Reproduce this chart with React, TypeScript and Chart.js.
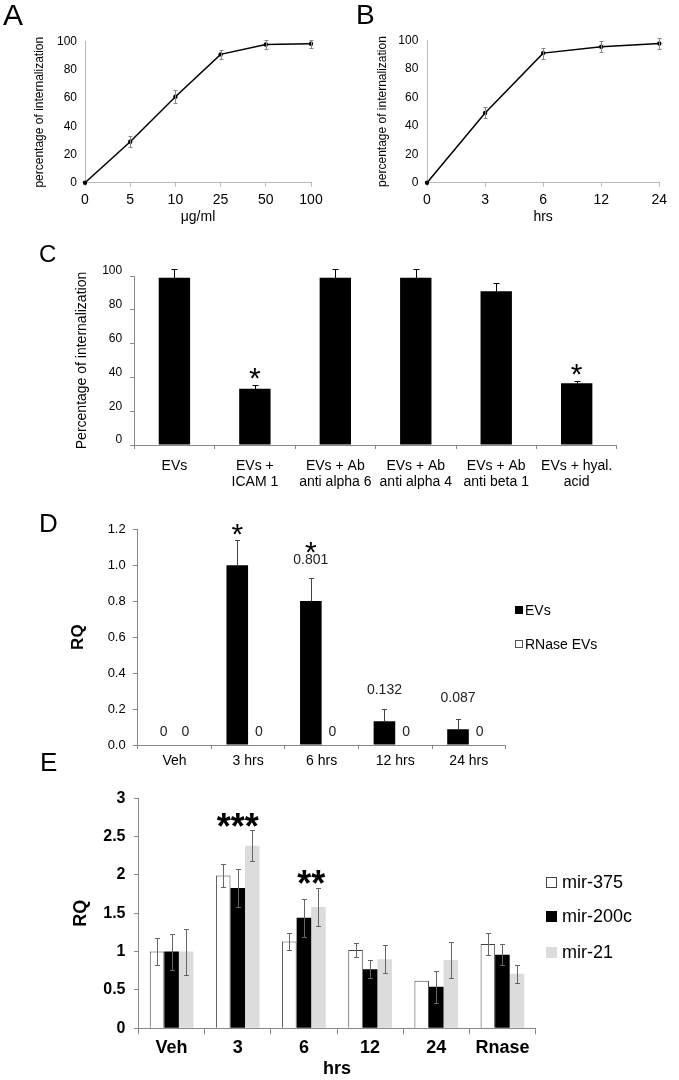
import React, { useEffect, useRef } from 'react';
import { Chart, registerables } from 'chart.js';
Chart.register(...registerables);

const FONT = "'Liberation Sans', Arial, Helvetica, sans-serif";
Chart.defaults.font.family = FONT;
Chart.defaults.color = '#000';

// ---------- data ----------
const aDoses = ['0', '5', '10', '25', '50', '100'];
const aValues = [0, 29, 61, 91, 98, 98.5];
const aErrors = [0, 3.8, 4.5, 3.2, 3, 3];

const bTimes = ['0', '3', '6', '12', '24'];
const bValues = [0, 49, 91, 95.5, 97.8];
const bErrors = [0, 3.9, 3.9, 3.9, 3.8];

const cCategories = [['EVs'], ['EVs +', 'ICAM 1'], ['EVs + Ab', 'anti alpha 6'], ['EVs + Ab', 'anti alpha 4'], ['EVs + Ab', 'anti beta 1'], ['EVs + hyal.', 'acid']];
const cValues = [99, 33.3, 99, 99, 91, 36.5];
const cErrors = [5, 2, 5, 5, 4.6, 1.5];
const cStars = ['', '*', '', '', '', '*'];

const dCategories = ['Veh', '3 hrs', '6 hrs', '12 hrs', '24 hrs'];
const dSeries = ['EVs', 'RNase EVs'];
const dEVs = [0, 1.0, 0.801, 0.132, 0.087];
const dEVsErr = [0, 0.14, 0.127, 0.067, 0.056];
const dRNase = [0, 0, 0, 0, 0];
const dEVsLabels = ['0', '', '0.801', '0.132', '0.087'];
const dRNaseLabels = ['0', '0', '0', '0', '0'];
const dStars = ['', '*', '*', '', ''];

const eCategories = ['Veh', '3', '6', '12', '24', 'Rnase'];
const eSeries = ['mir-375', 'mir-200c', 'mir-21'];
const e375 = [1, 1.99, 1.13, 1.02, 0.62, 1.1];
const e375Err = [0.18, 0.15, 0.115, 0.09, 0, 0.14];
const e200c = [1, 1.83, 1.44, 0.77, 0.54, 0.96];
const e200cErr = [0.235, 0.25, 0.25, 0.12, 0.21, 0.14];
const e21 = [1, 2.38, 1.58, 0.9, 0.89, 0.71];
const e21Err = [0.3, 0.2, 0.25, 0.18, 0.23, 0.115];
const eStars = ['', '***', '**', '', '', ''];

// ---------- helpers ----------
type Box = { cx: number; cy: number; cw: number; ch: number; L: number; T: number; R: number; B: number };

const layoutFor = (b: Box) => ({ padding: { left: 0, top: b.T - b.cy, right: b.cx + b.cw - b.R, bottom: 0 } });
const fitY = (b: Box) => (s: any) => { s.width = b.L - b.cx; };
const fitX = (b: Box) => (s: any) => { s.height = b.cy + b.ch - b.B; };

type ErrSpec = { ds: number; errors: number[]; mode: 'up' | 'both'; color: string; cap: number };
type TextSpec = { ds: number[]; idx: number; text: string; ref: number; dy: number; size: number; bold?: boolean; star?: boolean; color?: string };

function makeExtras(errs: ErrSpec[], texts: TextSpec[]) {
  return {
    id: 'extras',
    afterDatasetsDraw(chart: any) {
      const ctx = chart.ctx;
      const ys = chart.scales.y;
      ctx.save();
      for (const e of errs) {
        const meta = chart.getDatasetMeta(e.ds);
        const data = chart.data.datasets[e.ds].data as number[];
        ctx.strokeStyle = e.color;
        ctx.lineWidth = 1;
        e.errors.forEach((err, i) => {
          if (!err) return;
          const el = meta.data[i];
          const v = data[i];
          const top = Math.round(ys.getPixelForValue(v + err)) + 0.5;
          const bot = Math.round(ys.getPixelForValue(e.mode === 'both' ? v - err : v)) + 0.5;
          const x = Math.round(el.x) + 0.5;
          ctx.beginPath();
          ctx.moveTo(x, bot);
          ctx.lineTo(x, top);
          ctx.moveTo(x - e.cap, top);
          ctx.lineTo(x + e.cap, top);
          if (e.mode === 'both') {
            ctx.moveTo(x - e.cap, bot);
            ctx.lineTo(x + e.cap, bot);
          }
          ctx.stroke();
        });
      }
      for (const t of texts) {
        if (!t.text) continue;
        let x = 0;
        for (const d of t.ds) x += chart.getDatasetMeta(d).data[t.idx].x;
        x /= t.ds.length;
        const cy = ys.getPixelForValue(t.ref) + t.dy;
        ctx.font = `${t.bold ? 'bold ' : ''}${t.size}px ${FONT}`;
        ctx.fillStyle = t.color || '#000';
        ctx.textAlign = 'center';
        if (t.star) {
          ctx.textBaseline = 'alphabetic';
          ctx.fillText(t.text, x, cy + 0.58 * t.size);
        } else {
          ctx.textBaseline = 'middle';
          ctx.fillText(t.text, x, cy);
        }
      }
      ctx.restore();
    },
  };
}

function ChartCanvas({ box, make }: { box: Box; make: () => any }) {
  const ref = useRef<HTMLCanvasElement>(null);
  useEffect(() => {
    const chart = new Chart(ref.current as HTMLCanvasElement, make());
    return () => chart.destroy();
  }, []);
  return (
    <canvas
      ref={ref}
      width={box.cw}
      height={box.ch}
      style={{ position: 'absolute', left: box.cx, top: box.cy, width: box.cw, height: box.ch }}
    />
  );
}

const baseOpts = (b: Box) => ({
  responsive: false,
  animation: false,
  devicePixelRatio: 1,
  layout: layoutFor(b),
  plugins: { legend: { display: false }, tooltip: { enabled: false }, title: { display: false } },
});

// ---------- panel A / B ----------
function lineConfig(b: Box, labels: string[], values: number[], errors: number[], xTitle: string, yTitlePad: number, yTickPad: number) {
  return {
    type: 'line',
    data: {
      labels,
      datasets: [{
        data: values,
        borderColor: '#000',
        borderWidth: 1.5,
        pointRadius: 2.2,
        pointBackgroundColor: '#000',
        pointBorderWidth: 0,
        tension: 0,
        clip: false,
      }],
    },
    options: {
      ...baseOpts(b),
      scales: {
        x: {
          type: 'category',
          offset: false,
          grid: { display: true, drawOnChartArea: false, drawTicks: true, tickLength: 4, color: '#bbb' },
          border: { display: true, color: '#bbb' },
          ticks: { font: { size: 14 }, color: '#000', padding: 5, maxRotation: 0, autoSkip: false },
          title: { display: true, text: xTitle, font: { size: 14 }, color: '#000', padding: { top: 0, bottom: 9.6 } },
          afterFit: fitX(b),
        },
        y: {
          min: 0,
          max: 100,
          grid: { display: false, drawTicks: false },
          border: { display: true, color: '#bbb' },
          ticks: { stepSize: 20, font: { size: 12 }, color: '#000', padding: yTickPad },
          title: { display: true, text: 'percentage of internalization', font: { size: 12 }, color: '#000', padding: { top: yTitlePad, bottom: 0 } },
          afterFit: fitY(b),
        },
      },
    },
    plugins: [makeExtras([{ ds: 0, errors, mode: 'both', color: '#888', cap: 2 }], [])],
  };
}

const boxA: Box = { cx: 0, cy: 20, cw: 339, ch: 215, L: 85, T: 41.7, R: 311, B: 182.7 };
const boxB: Box = { cx: 340, cy: 20, cw: 339, ch: 215, L: 427, T: 40.3, R: 659.3, B: 182.7 };

// ---------- panel C ----------
const boxC: Box = { cx: 0, cy: 240, cw: 679, ch: 260, L: 134.2, T: 276, R: 616.9, B: 445 };
function configC() {
  return {
    type: 'bar',
    data: {
      labels: cCategories,
      datasets: [{ data: cValues, backgroundColor: '#000', borderWidth: 0, categoryPercentage: 0.39, barPercentage: 1 }],
    },
    options: {
      ...baseOpts(boxC),
      scales: {
        x: {
          grid: { display: true, drawOnChartArea: false, drawTicks: true, tickLength: 4, color: '#888', offset: true },
          border: { display: true, color: '#888' },
          ticks: { font: { size: 14, lineHeight: 1.15 }, color: '#000', padding: 9, maxRotation: 0, autoSkip: false },
          afterFit: fitX(boxC),
        },
        y: {
          min: 0,
          max: 100,
          grid: { display: true, drawOnChartArea: false, drawTicks: true, tickLength: 4, color: '#888' },
          border: { display: true, color: '#888' },
          ticks: { stepSize: 10, font: { size: 12 }, color: '#000', padding: 8, labelOffset: -5, callback: (v: number) => (v % 20 === 0 ? String(v) : '') },
          title: { display: true, text: 'Percentage of internalization', font: { size: 14 }, color: '#000', padding: { top: 73.6, bottom: 0 } },
          afterFit: fitY(boxC),
        },
      },
    },
    plugins: [makeExtras(
      [{ ds: 0, errors: cErrors, mode: 'up', color: '#000', cap: 3 }],
      cStars.map((s, i) => ({ ds: [0], idx: i, text: s, ref: cValues[i] + cErrors[i], dy: -14.5, size: 30, star: true })),
    )],
  };
}

// ---------- panel D ----------
const boxD: Box = { cx: 0, cy: 500, cw: 679, ch: 280, L: 137.7, T: 529.3, R: 505.6, B: 745 };
const dLabelDy = [-12.7, -19, -18.3, -18.6, -21];
function configD() {
  const texts: TextSpec[] = [];
  dEVsLabels.forEach((t, i) => texts.push({ ds: [0], idx: i, text: t, ref: dEVs[i] + dEVsErr[i], dy: dLabelDy[i], size: 14, color: '#222' }));
  dRNaseLabels.forEach((t, i) => texts.push({ ds: [1], idx: i, text: t, ref: dRNase[i], dy: -12.7, size: 14, color: '#222' }));
  dStars.forEach((t, i) => texts.push({ ds: [0], idx: i, text: t, ref: dEVs[i] + dEVsErr[i], dy: i === 1 ? -13.4 : -33.3, size: 30, star: true }));
  return {
    type: 'bar',
    data: {
      labels: dCategories,
      datasets: [
        { label: dSeries[0], data: dEVs, backgroundColor: '#000', borderWidth: 0, categoryPercentage: 0.587, barPercentage: 1 },
        { label: dSeries[1], data: dRNase, backgroundColor: '#fff', borderColor: '#666', borderWidth: 0, categoryPercentage: 0.587, barPercentage: 1 },
      ],
    },
    options: {
      ...baseOpts(boxD),
      scales: {
        x: {
          grid: { display: true, drawOnChartArea: false, drawTicks: true, tickLength: 4, color: '#888', offset: true },
          border: { display: true, color: '#888' },
          ticks: { font: { size: 14 }, color: '#000', padding: 3.6, maxRotation: 0, autoSkip: false },
          afterFit: fitX(boxD),
        },
        y: {
          min: 0,
          max: 1.2,
          grid: { display: true, drawOnChartArea: false, drawTicks: true, tickLength: 5, color: '#888' },
          border: { display: true, color: '#888' },
          ticks: { stepSize: 0.2, font: { size: 13 }, color: '#000', padding: 7, callback: (v: number) => v.toFixed(1) },
          title: { display: true, text: 'RQ', font: { size: 17, weight: 'bold' }, color: '#000', padding: { top: 67.8, bottom: 0 } },
          afterFit: fitY(boxD),
        },
      },
    },
    plugins: [makeExtras([{ ds: 0, errors: dEVsErr, mode: 'up', color: '#444', cap: 2.5 }], texts)],
  };
}

// ---------- panel E ----------
const boxE: Box = { cx: 0, cy: 780, cw: 679, ch: 300, L: 138.5, T: 795, R: 535.5, B: 1028.3 };
const eColors = ['#fff', '#000', '#dcdcdc'];
function configE() {
  const vals = [e375, e200c, e21];
  const errs = [e375Err, e200cErr, e21Err];
  const texts: TextSpec[] = eStars.map((s, i) => ({
    ds: s.length === 3 ? [0, 1, 2] : [1, 2],
    idx: i,
    text: s,
    ref: e21[i] + e21Err[i],
    dy: s.length === 3 ? -12 : -13,
    size: 36,
    bold: true,
    star: true,
  }));
  return {
    type: 'bar',
    data: {
      labels: eCategories,
      datasets: vals.map((v, k) => ({
        label: eSeries[k],
        data: v,
        backgroundColor: eColors[k],
        borderColor: k === 0 ? '#444' : eColors[k],
        borderWidth: k === 0 ? 1 : 0,
        categoryPercentage: 0.66,
        barPercentage: 1,
      })),
    },
    options: {
      ...baseOpts(boxE),
      scales: {
        x: {
          grid: { display: true, drawOnChartArea: false, drawTicks: true, tickLength: 6, color: '#888', offset: true },
          border: { display: true, color: '#888' },
          ticks: { font: { size: 18, weight: 'bold' }, color: '#000', padding: 3.2, maxRotation: 0, autoSkip: false },
          title: { display: true, text: 'hrs', font: { size: 18, weight: 'bold' }, color: '#000', padding: { top: 0, bottom: 0 } },
          afterFit: fitX(boxE),
        },
        y: {
          min: 0,
          max: 3,
          grid: { display: true, drawOnChartArea: false, drawTicks: true, tickLength: 4.5, color: '#888' },
          border: { display: true, color: '#888' },
          ticks: { stepSize: 0.5, font: { size: 16, weight: 'bold' }, color: '#000', padding: 8.5, callback: (v: number) => String(v) },
          title: { display: true, text: 'RQ', font: { size: 18, weight: 'bold' }, color: '#000', padding: { top: 70.2, bottom: 0 } },
          afterFit: fitY(boxE),
        },
      },
    },
    plugins: [makeExtras(errs.map((e, k) => ({ ds: k, errors: e, mode: 'both' as const, color: '#666', cap: 2.5 })), texts)],
  };
}

// ---------- HTML bits ----------
function Letter({ ch, left, capTop, size }: { ch: string; left: number; capTop: number; size: number }) {
  return (
    <div style={{ position: 'absolute', left, top: capTop - 0.13 * size, fontFamily: FONT, fontSize: size, lineHeight: `${size}px`, color: '#000' }}>{ch}</div>
  );
}

function LegendItem({ left, cy, size, sq, gap, fill, border, text }: { left: number; cy: number; size: number; sq: number; gap: number; fill: string; border: string; text: string }) {
  const lh = size * 1.3;
  return (
    <div style={{ position: 'absolute', left, top: cy - lh / 2, height: lh, lineHeight: `${lh}px`, fontFamily: FONT, fontSize: size, color: '#000', whiteSpace: 'nowrap', display: 'flex', alignItems: 'center' }}>
      <span style={{ display: 'inline-block', width: sq, height: sq, background: fill, border, boxSizing: 'border-box', marginRight: gap }} />
      <span>{text}</span>
    </div>
  );
}

export default function App() {
  return (
    <div style={{ position: 'absolute', left: 0, top: 0, width: 679, height: 1080, background: '#fff', overflow: 'hidden' }}>
      <ChartCanvas box={boxA} make={() => lineConfig(boxA, aDoses, aValues, aErrors, 'μg/ml', 32.5, 8)} />
      <ChartCanvas box={boxB} make={() => lineConfig(boxB, bTimes, bValues, bErrors, 'hrs', 35.3, 8.7)} />
      <ChartCanvas box={boxC} make={configC} />
      <ChartCanvas box={boxD} make={configD} />
      <ChartCanvas box={boxE} make={configE} />

      <Letter ch="A" left={3} capTop={3.5} size={30} />
      <Letter ch="B" left={356} capTop={5} size={28} />
      <Letter ch="C" left={39} capTop={245} size={24} />
      <Letter ch="D" left={39} capTop={513.3} size={26} />
      <Letter ch="E" left={40} capTop={752} size={26} />

      <LegendItem left={515} cy={610} size={14} sq={8} gap={2} fill="#000" border="none" text={dSeries[0]} />
      <LegendItem left={515} cy={644} size={14} sq={8} gap={2} fill="#fff" border="1px solid #555" text={dSeries[1]} />

      <LegendItem left={546} cy={882.7} size={18} sq={11} gap={5} fill="#fff" border="1px solid #444" text={eSeries[0]} />
      <LegendItem left={546} cy={916.7} size={18} sq={11} gap={5} fill="#000" border="none" text={eSeries[1]} />
      <LegendItem left={546} cy={952.7} size={18} sq={11} gap={5} fill="#dcdcdc" border="none" text={eSeries[2]} />
    </div>
  );
}
